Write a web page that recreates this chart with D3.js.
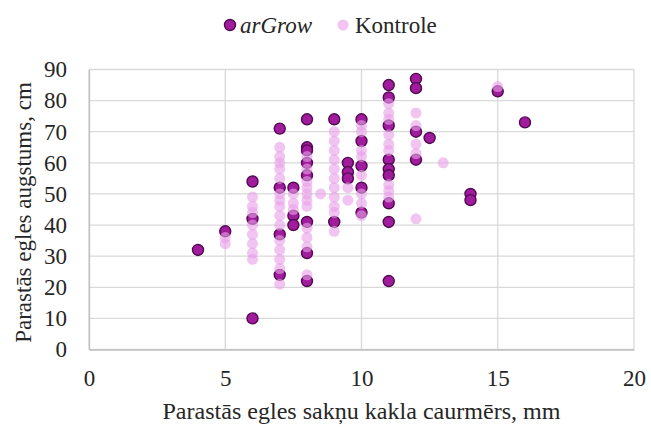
<!DOCTYPE html>
<html>
<head>
<meta charset="utf-8">
<script src="https://cdn.jsdelivr.net/npm/d3@7"></script>
<style>
  body { margin: 0; background: #fff; }
  svg { display: block; }
  svg text { font-family: "Liberation Serif", "Times New Roman", Tinos, "DejaVu Serif", serif !important; fill: #262626; }
</style>
</head>
<body>
<svg id="chart" width="651" height="427"></svg>
<script>
// ---- data ----
const seriesNames = ["arGrow", "Kontrole"];
const xTicks = [0, 5, 10, 15, 20];
const yTicks = [0, 10, 20, 30, 40, 50, 60, 70, 80, 90];
const xTitle = "Parastās egles sakņu kakla caurmērs, mm";
const yTitle = "Parastās egles augstums, cm";

const arGrowX = [4, 5, 6, 6, 6, 7, 7, 7, 7, 7.5, 7.5, 7.5, 8, 8, 8, 8, 8, 8, 8, 8,
  9, 9, 9.5, 9.5, 9.5, 10, 10, 10, 10, 10, 11, 11, 11, 11, 11, 11, 11, 11, 11,
  12, 12, 12, 12, 12.5, 14, 14, 15, 16];
const arGrowY = [32, 38, 54, 42, 10, 71, 52, 37, 24, 52, 43, 40, 74, 65, 64, 60, 56, 41, 31, 22,
  74, 41, 60, 57, 55, 74, 67, 59, 52, 44, 85, 81, 72, 61, 58, 56, 47, 41, 22,
  87, 84, 70, 61, 68, 50, 48, 83, 73];

const kontroleX = [5, 5,
  6, 6, 6, 6, 6, 6, 6, 6,
  7, 7, 7, 7, 7, 7, 7, 7, 7, 7, 7, 7, 7, 7, 7,
  7.5, 7.5, 7.5,
  8, 8, 8, 8, 8, 8, 8, 8, 8, 8, 8,
  8.5,
  9, 9, 9, 9, 9, 9, 9, 9, 9, 9, 9,
  9.5, 9.5,
  10, 10, 10, 10, 10, 10, 10, 10,
  11, 11, 11, 11, 11, 11, 11, 11, 11,
  12, 12, 12, 12, 12,
  13, 15];
const kontroleY = [36, 34,
  49, 46, 44, 40, 37, 34, 31, 29,
  65, 62, 60, 58, 55, 50, 48, 46, 43, 40, 35, 32, 29, 26, 21,
  50, 47, 45,
  62, 58, 54, 52, 50, 48, 46, 39, 36, 33, 24,
  50,
  70, 67, 64, 61, 58, 55, 52, 49, 46, 44, 38,
  52, 48,
  72, 70, 64, 62, 56, 50, 47, 43,
  79, 76, 74, 69, 66, 64, 53, 51, 49,
  76, 72, 66, 63, 42,
  60, 84.5];

// ---- chart ----
const svg = d3.select("#chart");
const m = { left: 89, right: 634, top: 69.5, bottom: 349.5 };
const x = d3.scaleLinear().domain([0, 20]).range([m.left, m.right]);
const y = d3.scaleLinear().domain([0, 90]).range([m.bottom, m.top]);

// gridlines
const grid = svg.append("g");
grid.selectAll("line.h").data(yTicks).join("line")
  .attr("x1", m.left).attr("x2", m.right)
  .attr("y1", d => y(d)).attr("y2", d => y(d))
  .attr("stroke", "#d9d9d9").attr("stroke-width", 1.3);
grid.selectAll("line.v").data(xTicks).join("line")
  .attr("y1", m.top).attr("y2", m.bottom)
  .attr("x1", d => x(d)).attr("x2", d => x(d))
  .attr("stroke", "#d9d9d9").attr("stroke-width", 1.3);

// axes
const xAxis = svg.append("g").attr("transform", `translate(0,${m.bottom})`)
  .call(d3.axisBottom(x).tickValues(xTicks).tickSize(0).tickPadding(20));
const yAxis = svg.append("g").attr("transform", `translate(${m.left},0)`)
  .call(d3.axisLeft(y).tickValues(yTicks).tickSize(0).tickPadding(22));
[xAxis, yAxis].forEach(a => {
  a.attr("font-family", null).attr("font-size", null);
  a.select(".domain").attr("stroke", "#bfbfbf").attr("stroke-width", 1.3);
  a.selectAll("text").style("font-size", "23px").attr("fill", "#262626");
});
xAxis.selectAll("text").attr("dy", "0.71em");

// points: arGrow first, Kontrole on top
const ptsA = arGrowX.map((v, i) => [v, arGrowY[i]]);
const ptsK = kontroleX.map((v, i) => [v, kontroleY[i]]);
svg.append("g").selectAll("circle").data(ptsA).join("circle")
  .attr("cx", d => x(d[0])).attr("cy", d => y(d[1])).attr("r", 5.5)
  .attr("fill", "#a01c9c").attr("stroke", "#520a52").attr("stroke-width", 1.4);
svg.append("g").selectAll("circle").data(ptsK).join("circle")
  .attr("cx", d => x(d[0])).attr("cy", d => y(d[1])).attr("r", 5.5)
  .attr("fill", "#e9a0e9").attr("fill-opacity", 0.62);

// legend
const leg = svg.append("g");
leg.append("circle").attr("cx", 230).attr("cy", 25).attr("r", 5.5)
  .attr("fill", "#a01c9c").attr("stroke", "#520a52").attr("stroke-width", 1.4);
leg.append("text").attr("x", 240).attr("y", 25).attr("dy", "0.35em")
  .style("font-size", "23px").style("font-style", "italic").text(seriesNames[0]);
leg.append("circle").attr("cx", 343).attr("cy", 25).attr("r", 5.5)
  .attr("fill", "#e9a0e9").attr("fill-opacity", 0.62);
leg.append("text").attr("x", 355).attr("y", 25).attr("dy", "0.35em")
  .style("font-size", "23px").text(seriesNames[1]);

// titles
svg.append("text").attr("x", (m.left + m.right) / 2).attr("y", 411)
  .attr("text-anchor", "middle").attr("dy", "0.35em")
  .attr("textLength", 398).attr("lengthAdjust", "spacingAndGlyphs")
  .style("font-size", "23px").text(xTitle);
svg.append("text").attr("transform", `translate(23,${(m.top + m.bottom) / 2 + 3}) rotate(-90)`)
  .attr("text-anchor", "middle").attr("dy", "0.35em")
  .style("font-size", "23px").text(yTitle);
</script>
</body>
</html>
